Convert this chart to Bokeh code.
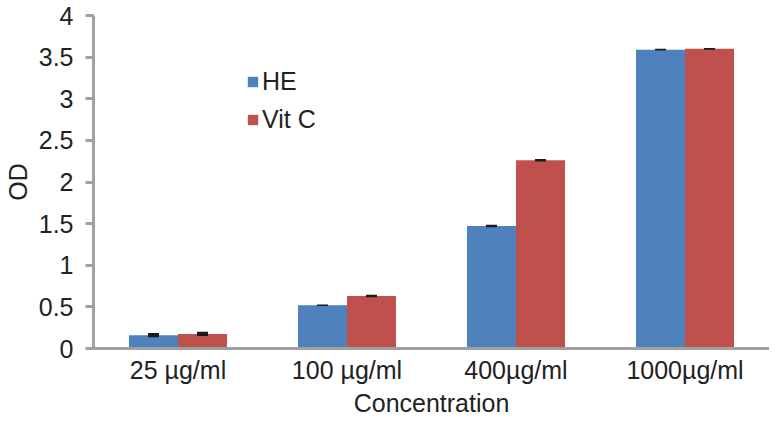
from bokeh.plotting import figure
from bokeh.models import FactorRange, Range1d, FixedTicker, Legend, LegendItem, ColumnDataSource
from bokeh.transform import dodge
from bokeh.embed import file_html
from bokeh.resources import INLINE

categories = ["25 µg/ml", "100 µg/ml", "400µg/ml", "1000µg/ml"]
he = [0.16, 0.52, 1.47, 3.59]
vitc = [0.175, 0.63, 2.26, 3.60]
he_err = [0.025, 0.01, 0.015, 0.01]
vitc_err = [0.025, 0.015, 0.015, 0.01]
y_ticks = [0, 0.5, 1, 1.5, 2, 2.5, 3, 3.5, 4]
y_tick_labels = ["0", "0.5", "1", "1.5", "2", "2.5", "3", "3.5", "4"]

src = ColumnDataSource(data=dict(
    cat=categories, he=he, vitc=vitc,
    he_lo=[v - e for v, e in zip(he, he_err)], he_hi=[v + e for v, e in zip(he, he_err)],
    vc_lo=[v - e for v, e in zip(vitc, vitc_err)], vc_hi=[v + e for v, e in zip(vitc, vitc_err)],
))

FONT = "Liberation Sans"
FS = "25px"
TXT = "#222222"
AXIS_GRAY = "#a0a0a0"

p = figure(x_range=FactorRange(factors=categories, range_padding=0),
           y_range=Range1d(0, 4), width=769, height=419,
           output_backend="svg", toolbar_location=None,
           min_border_left=89, min_border_right=0, min_border_top=15, min_border_bottom=68)
p.outline_line_color = None
p.xgrid.visible = False
p.ygrid.visible = False

bw = 0.29
r1 = p.vbar(x=dodge("cat", -bw / 2, range=p.x_range), top="he", width=bw, source=src,
            fill_color="#4f81bd", line_color=None)
r2 = p.vbar(x=dodge("cat", bw / 2, range=p.x_range), top="vitc", width=bw, source=src,
            fill_color="#c0504d", line_color=None)
p.vbar(x=dodge("cat", -bw / 2, range=p.x_range), bottom="he_lo", top="he_hi", width=0.065,
       source=src, fill_color="#1a1a1a", line_color=None)
p.vbar(x=dodge("cat", bw / 2, range=p.x_range), bottom="vc_lo", top="vc_hi", width=0.065,
       source=src, fill_color="#1a1a1a", line_color=None)

# y axis
ya = p.yaxis[0]
ya.ticker = FixedTicker(ticks=y_ticks)
ya.major_label_overrides = {t: l for t, l in zip(y_ticks, y_tick_labels)}
ya.axis_label = "OD"
ya.axis_label_text_font = FONT
ya.axis_label_text_font_size = FS
ya.axis_label_text_font_style = "normal"
ya.axis_label_text_color = TXT
ya.axis_label_standoff = 4
ya.major_label_text_font = FONT
ya.major_label_text_font_size = FS
ya.major_label_text_color = TXT
ya.major_label_standoff = 12
ya.axis_line_color = AXIS_GRAY
ya.axis_line_width = 3
ya.major_tick_line_color = AXIS_GRAY
ya.major_tick_line_width = 3
ya.major_tick_out = 8
ya.major_tick_in = 0
ya.minor_tick_line_color = None

# x axis
xa = p.xaxis[0]
xa.axis_label = "Concentration"
xa.axis_label_text_font = FONT
xa.axis_label_text_font_size = FS
xa.axis_label_text_font_style = "normal"
xa.axis_label_text_color = TXT
xa.axis_label_standoff = 2
xa.major_label_text_font = FONT
xa.major_label_text_font_size = FS
xa.major_label_text_color = TXT
xa.major_label_standoff = 7
xa.axis_line_color = AXIS_GRAY
xa.axis_line_width = 3
xa.major_tick_line_color = None
xa.major_tick_out = 0
xa.minor_tick_line_color = None

legend = Legend(items=[LegendItem(label="HE", renderers=[r1]),
                       LegendItem(label="Vit C", renderers=[r2])],
                location=(153, 214))
legend.glyph_width = 13
legend.glyph_height = 13
legend.label_text_font = FONT
legend.label_text_font_size = FS
legend.label_text_color = TXT
legend.label_standoff = 3
legend.spacing = 9
legend.padding = 0
legend.margin = 0
legend.border_line_color = None
legend.background_fill_alpha = 0
p.add_layout(legend, "center")

open("out.html", "w").write(file_html(p, INLINE))
